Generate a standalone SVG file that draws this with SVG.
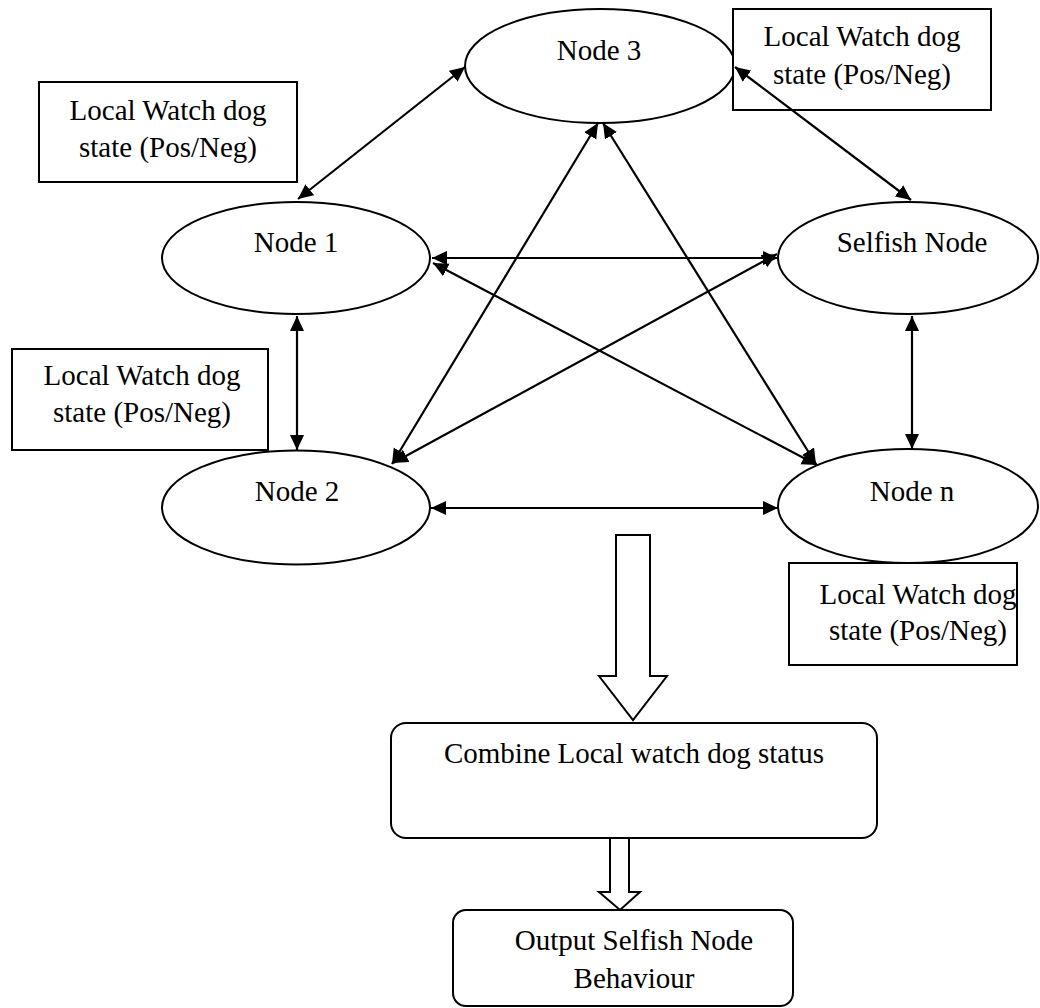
<svg xmlns="http://www.w3.org/2000/svg" width="1040" height="1008" viewBox="0 0 1040 1008">
<defs>
<style>
.shape{fill:#fff;stroke:#000;stroke-width:2}
.lbl{font-family:"Liberation Serif","Times New Roman",serif;font-size:29px;fill:#000;text-anchor:middle}
.con{stroke:#000;stroke-width:2.2;fill:none;marker-start:url(#ah);marker-end:url(#ah)}
.blk{fill:#fff;stroke:#000;stroke-width:2;stroke-linejoin:miter}
</style>
<marker id="ah" markerUnits="userSpaceOnUse" markerWidth="16" markerHeight="15" refX="15" refY="7.5" orient="auto-start-reverse">
<path d="M0,0.5 L15,7.5 L0,14.5 z" fill="#000"/>
</marker>
</defs>
<rect width="1040" height="1008" fill="#fff"/>

<g id="node3">
<ellipse class="shape" cx="600" cy="66" rx="135" ry="57"/>
<text class="lbl" x="599" y="60">Node 3</text>
</g>
<g id="node1">
<ellipse class="shape" cx="296" cy="258" rx="134" ry="56"/>
<text class="lbl" x="296" y="252">Node 1</text>
</g>
<g id="selfish">
<ellipse class="shape" cx="908" cy="258" rx="130" ry="56"/>
<text class="lbl" x="912" y="252">Selfish Node</text>
</g>
<g id="node2">
<ellipse class="shape" cx="296" cy="507.5" rx="134" ry="57"/>
<text class="lbl" x="297" y="501">Node 2</text>
</g>
<g id="noden">
<ellipse class="shape" cx="908" cy="506" rx="130" ry="57"/>
<text class="lbl" x="912" y="501">Node n</text>
</g>

<g id="wd-topleft">
<rect class="shape" x="39" y="82" width="258" height="100"/>
<text class="lbl" x="168" y="120">Local Watch dog</text>
<text class="lbl" x="168" y="157">state (Pos/Neg)</text>
</g>
<g id="wd-topright">
<rect class="shape" x="733" y="9" width="258" height="101"/>
<text class="lbl" x="862" y="46">Local Watch dog</text>
<text class="lbl" x="862" y="84">state (Pos/Neg)</text>
</g>
<g id="wd-midleft">
<rect class="shape" x="12" y="349" width="256" height="101"/>
<text class="lbl" x="142" y="385">Local Watch dog</text>
<text class="lbl" x="142" y="422">state (Pos/Neg)</text>
</g>
<g id="wd-bottomright">
<rect class="shape" x="789" y="563" width="228" height="102"/>
<text class="lbl" x="918" y="604">Local Watch dog</text>
<text class="lbl" x="918" y="640">state (Pos/Neg)</text>
</g>

<g id="combine">
<rect class="shape" x="391" y="723" width="486" height="115" rx="15"/>
<text class="lbl" x="634" y="763">Combine Local watch dog status</text>
</g>
<g id="output">
<rect class="shape" x="453" y="910" width="340" height="96" rx="13"/>
<text class="lbl" x="634" y="950">Output Selfish Node</text>
<text class="lbl" x="634" y="988">Behaviour</text>
</g>

<g id="connectors">
<line class="con" x1="298" y1="199" x2="465" y2="67"/>
<line class="con" x1="735" y1="67" x2="911" y2="200"/>
<line class="con" x1="432" y1="258" x2="778" y2="258"/>
<line class="con" x1="433" y1="263" x2="817" y2="465"/>
<line class="con" x1="393" y1="463" x2="777" y2="254"/>
<line class="con" x1="392" y1="464" x2="598" y2="123"/>
<line class="con" x1="816" y1="464" x2="603" y2="123"/>
<line class="con" x1="297" y1="316" x2="297" y2="450"/>
<line class="con" x1="912" y1="316" x2="912" y2="449"/>
<line class="con" x1="431" y1="508" x2="778" y2="508"/>
<path class="blk" d="M616,535 L650,535 L650,676 L667,676 L633,720 L599,676 L616,676 Z"/>
<path class="blk" d="M610,838 L629,838 L629,892 L640,892 L620,910 L599,892 L610,892 Z"/>
</g>
</svg>
